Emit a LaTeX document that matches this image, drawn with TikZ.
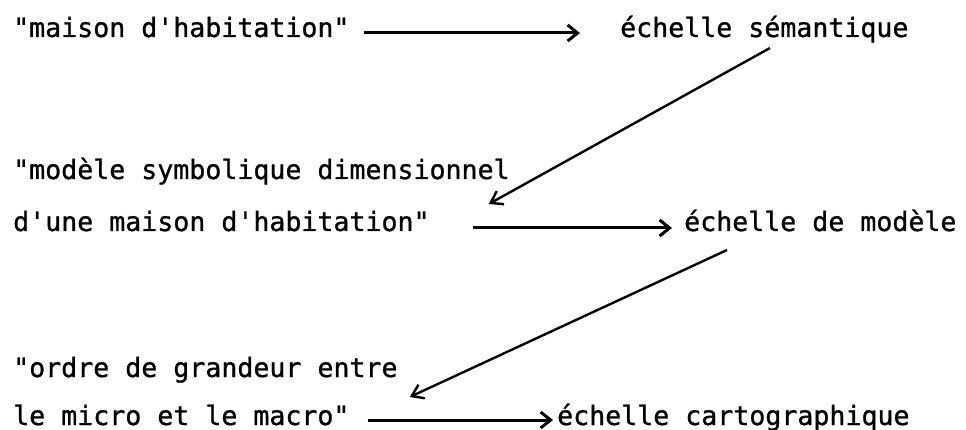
\documentclass[tikz,border=0pt]{standalone}
\usepackage{fontspec}
\setmonofont[FakeBold=1]{DejaVu Sans Mono}
\usetikzlibrary{arrows.meta}
\begin{document}
\begin{tikzpicture}[x=1pt,y=-1pt,
  lbl/.style={anchor=base west,inner sep=0pt,font=\ttfamily\fontsize{26.6}{30}\selectfont},
  harr/.style={line width=3pt,-{Straight Barb[length=10pt,width=16pt]}},
  darr/.style={line width=2.4pt,-{Straight Barb[length=11pt,width=15pt]}}]
\useasboundingbox (0,0) rectangle (966,430);
\node[lbl] (m1) at (13,37) {"maison d'habitation"};
\node[lbl] (s1) at (620,37) {échelle sémantique};
\node[lbl] (m2a) at (13,179) {"modèle symbolique dimensionnel};
\node[lbl] (m2b) at (13,231) {d'une maison d'habitation"};
\node[lbl] (s2) at (684,231) {échelle de modèle};
\node[lbl] (m3a) at (13,377) {"ordre de grandeur entre};
\node[lbl] (m3b) at (13,425) {le micro et le macro"};
\node[lbl] (s3) at (557,425) {échelle cartographique};
\draw[harr] ([shift={(14,-4)}]m1.base east) -- ([shift={(-40,-4)}]s1.base west);
\draw[harr] ([shift={(43,-3)}]m2b.base east) -- ([shift={(-12,-3)}]s2.base west);
\draw[harr] ([shift={(18,-5)}]m3b.base east) -- ([shift={(-4,-5)}]s3.base west);
\draw[darr] ([shift={(150,11)}]s1.base west) -- ([shift={(-21,25)}]m2a.base east);
\draw[darr] ([shift={(43,19)}]s2.base west) -- ([shift={(12,20)}]m3a.base east);
\end{tikzpicture}
\end{document}
